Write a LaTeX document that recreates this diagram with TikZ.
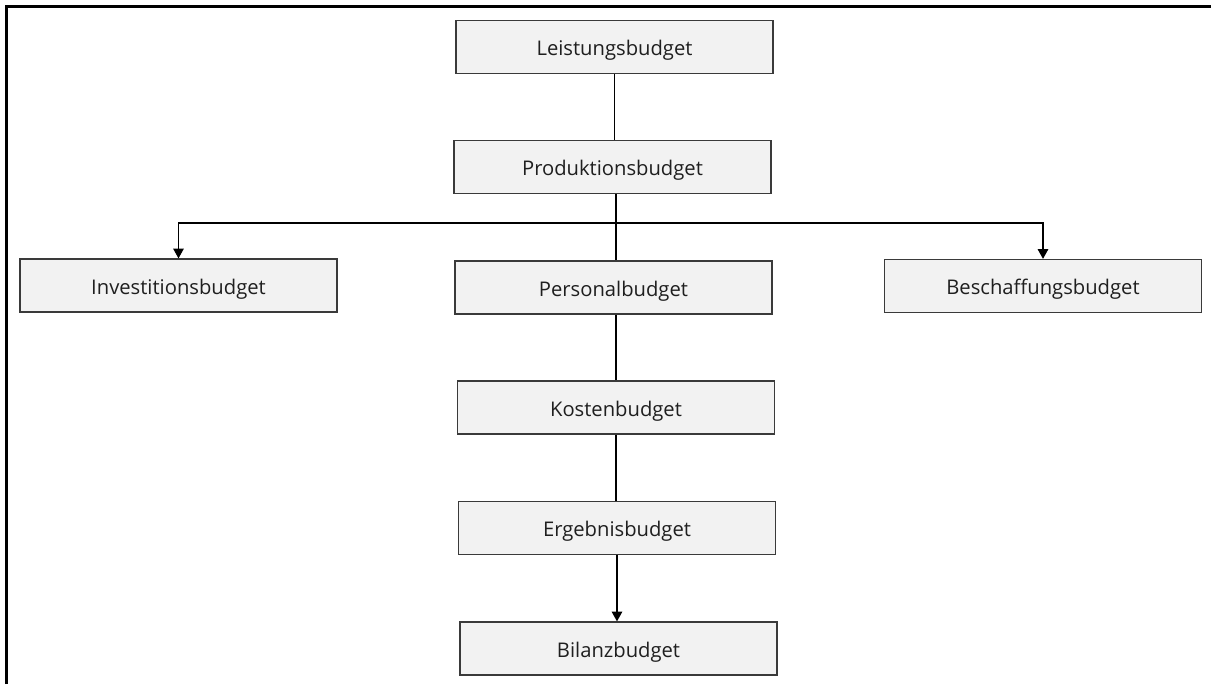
\documentclass[tikz,border=0pt]{standalone}
\usepackage{fontspec}
\setmainfont{Open Sans}
\usetikzlibrary{arrows.meta,positioning,calc}
\definecolor{boxfill}{HTML}{F2F2F2}
\definecolor{boxline}{HTML}{3A3A3A}
\tikzset{
  budget/.style={draw=boxline,fill=boxfill,line width=.7pt,minimum width=6.34cm,
    minimum height=1.06cm,inner sep=0pt,text height=10.2pt,text depth=0pt,text=black!88},
  link/.style={line width=.8pt},
}

\begin{document}
\begin{tikzpicture}[x=.02cm,y=-.02cm,>={Triangle[length=5.6pt,width=6pt]},
  font=\fontsize{11.5}{13}\selectfont]
\useasboundingbox (0,0) rectangle (1211,684);
\draw[line width=1.3pt] (6.5,684) -- (6.5,6.5) -- (1211,6.5);
% column of budgets
\node[budget] (leist) at (614.5,47) {Leistungsbudget};
\node[budget] (prod) at (612.5,167) {Produktionsbudget};
\node[budget] (invest) at (178.5,285.5) {Investitionsbudget};
\node[budget] (personal) at (613.5,287.5) {Personalbudget};
\node[budget] (beschaff) at (1043,286) {Beschaffungsbudget};
\node[budget] (kosten) at (616,407.5) {Kostenbudget};
\node[budget] (ergebnis) at (617,528) {Ergebnisbudget};
\node[budget] (bilanz) at (618.5,648.5) {Bilanzbudget};
\coordinate (branch) at (616,223);
% connectors
\draw[link] (leist.south) -- (leist.south |- prod.north);
\draw[link] (branch |- prod.south) -- (branch |- personal.north);
\draw[link,->] (branch) -| (invest.north);
\draw[link,->] (branch) -| (beschaff.north);
\draw[line width=1.2pt] ($(branch)+(-30,0)$) -- ($(branch)+(27,0)$);
\draw[link] (personal.south -| kosten.north) -- (kosten.north);
\draw[link] (kosten.south) -- (kosten.south |- ergebnis.north);
\draw[link,->] (ergebnis.south) -- (ergebnis.south |- bilanz.north);
\end{tikzpicture}
\end{document}
